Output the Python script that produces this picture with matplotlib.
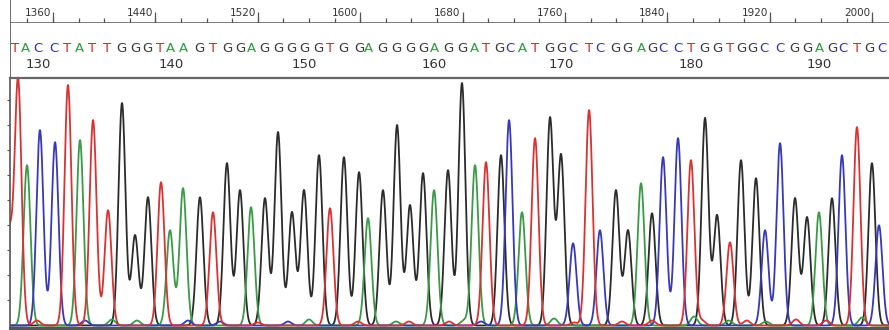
import numpy as np
import matplotlib
matplotlib.use('Agg')
import matplotlib.pyplot as plt

# base calls (first call is base 128)
first_base = 128
bases = list('TACCTATTGGGTAAGTGGAGGGGGTGGAGGGGAGGATGCATGGCTCGGAGCCTGGTGGCCGGAGCTGC')
# peak positions in scan units
peak_pos = [1332.7, 1339.7, 1349.8, 1361.6, 1371.7, 1381.1, 1391.3, 1403.0, 1413.9, 1424.1,
            1434.2, 1444.4, 1451.4, 1461.6, 1474.8, 1485.0, 1495.9, 1506.1, 1514.7, 1525.6,
            1535.8, 1546.7, 1556.1, 1567.8, 1576.4, 1587.3, 1599.1, 1606.1, 1617.8, 1628.8,
            1638.9, 1649.1, 1657.7, 1668.6, 1679.5, 1689.7, 1698.3, 1710.0, 1716.3, 1726.4,
            1736.6, 1748.3, 1756.9, 1766.3, 1778.8, 1787.3, 1799.8, 1809.2, 1819.4, 1828.0,
            1836.6, 1848.3, 1858.4, 1869.4, 1878.8, 1888.9, 1897.5, 1909.2, 1916.3, 1928.0,
            1939.7, 1949.1, 1958.4, 1968.6, 1976.4, 1988.1, 1999.8, 2005.3]
peak_height = [245, 160, 195, 183, 240, 185, 205, 115, 222, 90,
               128, 143, 95, 137, 128, 113, 162, 135, 118, 127,
               193, 113, 135, 170, 117, 168, 153, 107, 135, 200,
               120, 152, 135, 155, 242, 160, 163, 170, 205, 113,
               187, 207, 170, 82, 215, 95, 135, 95, 142, 112,
               168, 187, 165, 207, 110, 83, 165, 147, 95, 182,
               127, 108, 113, 127, 170, 198, 162, 100]
# where the caller printed each letter (scan units)
call_pos = [1330.5, 1338.5, 1348.5, 1360.5, 1371.0, 1380.5, 1390.5, 1402.5, 1413.5, 1424.0,
            1434.0, 1444.0, 1452.0, 1462.0, 1474.5, 1485.0, 1496.0, 1506.0, 1515.0, 1525.5,
            1536.0, 1546.5, 1556.0, 1567.5, 1576.5, 1587.0, 1599.0, 1606.5, 1617.5, 1628.5,
            1639.0, 1649.0, 1658.0, 1668.5, 1679.5, 1689.5, 1698.5, 1708.5, 1717.0, 1726.5,
            1736.5, 1748.0, 1757.0, 1766.5, 1778.5, 1787.5, 1799.5, 1809.0, 1819.5, 1828.0,
            1836.5, 1848.0, 1858.5, 1869.0, 1879.0, 1889.0, 1897.5, 1906.5, 1915.5, 1928.0,
            1939.5, 1949.0, 1958.5, 1968.5, 1977.0, 1988.0, 1997.5, 2007.5]

# small background bumps (not called)
noise_base = ['T', 'T', 'C', 'A', 'A', 'C', 'C', 'T', 'C', 'A',
              'T', 'A', 'T', 'T', 'A', 'C', 'A', 'T', 'T', 'T',
              'A', 'T', 'A', 'T', 'A', 'T', 'T', 'A']
noise_pos = [1325.6, 1347.5, 1385.0, 1406.0, 1425.6, 1465.5, 1490.5, 1520.0, 1543.6, 1560.0,
             1598.3, 1628.0, 1638.0, 1669.4, 1681.0, 1694.4, 1751.4, 1767.0, 1804.5, 1828.0,
             1860.8, 1867.0, 1888.0, 1902.0, 1917.0, 1940.5, 1964.0, 1992.0]
noise_height = [90, 5, 5, 6, 5, 5, 4, 3, 4, 6,
                4, 4, 4, 4, 5, 4, 7, 3, 4, 5,
                9, 5, 5, 5, 4, 6, 5, 8]

trace_colors = {'G': '#2b2b2b', 'A': '#3a9a48', 'T': '#d93232', 'C': '#3838b8'}
letter_colors = {'G': '#3a3a3a', 'A': '#2f9a3a', 'T': '#d02828', 'C': '#3030bb'}

W, H = 889, 330
def box(x0, y0, x1, y1):
    return [x0 / W, 1 - y1 / H, (x1 - x0) / W, (y1 - y0) / H]

x_lo = 1360 + (10 - 53) / 1.28
x_hi = 1360 + (889 - 53) / 1.28
edge = '#555555'

fig = plt.figure(figsize=(W / 100, H / 100), dpi=100)

# trace panel
ax = fig.add_axes(box(10, 78, 889, 328))
ax.set_xlim(x_lo, x_hi)
ax.set_ylim(-2.5, 247)
grid = np.linspace(x_lo - 10, x_hi + 10, 4000)
sigma = 2.7
for b in ['G', 'A', 'C', 'T']:
    y = np.zeros_like(grid)
    for p, h, bb in zip(peak_pos, peak_height, bases):
        if bb == b:
            y += h * np.exp(-0.5 * ((grid - p) / sigma) ** 2)
    for p, h, bb in zip(noise_pos, noise_height, noise_base):
        if bb == b:
            y += h * np.exp(-0.5 * ((grid - p) / sigma) ** 2)
    ax.plot(grid, y, color=trace_colors[b], lw=1.3)
ax.set_xticks([])
ax.set_yticks(np.arange(25, 226, 25))
ax.set_yticklabels([])
ax.tick_params(axis='y', direction='out', length=2.5, width=0.8, color=edge)
ax.spines['right'].set_visible(False)
ax.spines['left'].set_color(edge)
ax.spines['left'].set_linewidth(1.2)
ax.spines['bottom'].set_color(edge)
ax.spines['bottom'].set_linewidth(2.2)
ax.spines['top'].set_color('#666666')
ax.spines['top'].set_linewidth(1.6)

# base call row
ax_seq = fig.add_axes(box(10, 23, 889, 78))
ax_seq.set_xlim(x_lo, x_hi)
ax_seq.set_ylim(78, 23)
ax_seq.axis('off')
ax_seq.axvline(x_lo, color=edge, lw=1.2)
for i, (b, p) in enumerate(zip(bases, call_pos)):
    ax_seq.text(p, 48, b, color=letter_colors[b], ha='center', va='center', fontsize=9.5)
    n = first_base + i
    if n % 10 == 0:
        ax_seq.text(p, 65, str(n), color='#333333', ha='center', va='center', fontsize=9.5)

# scan ruler
ax_r = fig.add_axes(box(10, 0, 889, 23))
ax_r.set_xlim(x_lo, x_hi)
ax_r.set_ylim(0, 23)
ax_r.axis('off')
ax_r.axvline(x_lo, color=edge, lw=1.2)
ax_r.axhline(0.5, color=edge, lw=1.8)
major = np.arange(1360, 2001, 80)
minor = np.arange(1340, 2011, 20)
ax_r.vlines(minor, 0, 5, color=edge, lw=0.9)
ax_r.vlines(major, 0, 11, color=edge, lw=0.9)
for m in major:
    ax_r.text(m - 1.5, 10.5, str(m), ha='right', va='center', fontsize=7.5, color='#333333')

fig.savefig('out.png', dpi=100)
